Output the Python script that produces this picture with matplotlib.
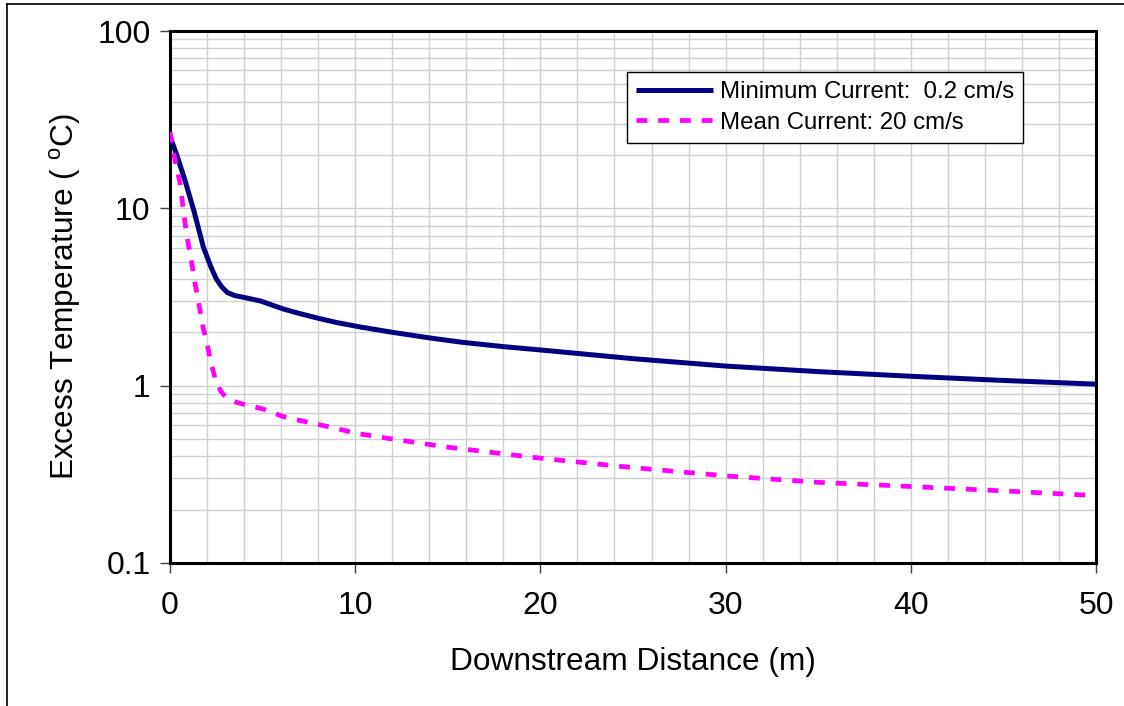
import matplotlib
matplotlib.use("Agg")
import matplotlib.pyplot as plt
from matplotlib.lines import Line2D
import numpy as np

plt.rcParams['font.family'] = ['Liberation Sans', 'DejaVu Sans']
plt.rcParams['mathtext.fontset'] = 'custom'
plt.rcParams['mathtext.rm'] = 'Liberation Sans'

# Data
dist_min = [0, 0.4, 0.8, 1.3, 1.8, 2.2, 2.5, 2.8, 3.1, 3.5, 3.9, 4.4, 4.9, 5.5, 6.1, 7.0, 8.0, 9.0, 10.3, 12, 14, 15.7, 18, 20, 25, 30, 35, 40, 45, 50]
temp_min = [25.5, 19.5, 14.5, 9.6, 6.05, 4.7, 4.0, 3.6, 3.35, 3.22, 3.16, 3.08, 3.0, 2.85, 2.71, 2.55, 2.40, 2.27, 2.14, 2.0, 1.86, 1.76, 1.66, 1.59, 1.42, 1.29, 1.20, 1.13, 1.07, 1.02]

dist_mean = [0, 0.27, 0.54, 0.7, 0.9, 1.13, 1.35, 1.57, 1.78, 2.0, 2.2, 2.5, 2.75, 2.97, 3.3, 3.67, 5.0, 6.1, 7.5, 8.8, 10, 12, 15, 20, 25, 30, 35, 40, 45, 50]
temp_mean = [27, 18.7, 13.9, 10.2, 7.06, 5.25, 3.79, 2.85, 2.14, 1.74, 1.36, 1.04, 0.93, 0.87, 0.83, 0.80, 0.74, 0.67, 0.62, 0.58, 0.54, 0.50, 0.45, 0.39, 0.345, 0.31, 0.285, 0.27, 0.255, 0.24]

label_min = "Minimum Current:  0.2 cm/s"
label_mean = "Mean Current: 20 cm/s"

W, H = 1124, 706
fig = plt.figure(figsize=(W/100, H/100), dpi=100)
ax = fig.add_axes([170/W, 1 - 563/H, (1096-170)/W, (563-31)/H])

ax.set_yscale('log')
ax.set_xlim(0, 50)
ax.set_ylim(0.1, 100)

ax.plot(dist_min, temp_min, color='#000080', lw=3.6, solid_capstyle='butt',
        solid_joinstyle='round', zorder=3)
ax.plot(dist_mean, temp_mean, color='#FF00FF', lw=3.4, dashes=(2.3, 2.3), zorder=3)

ax.set_xticks(np.arange(0, 51, 10))
ax.set_xticks(np.arange(0, 51, 2), minor=True)
ax.set_yticks([0.1, 1, 10, 100])
ax.set_yticklabels(['0.1', '1', '10', '100'])
ax.grid(True, which='both', color='#d0d0d0', lw=1, zorder=0)
ax.set_axisbelow(True)

ax.tick_params(axis='both', which='major', direction='out', length=7, width=1,
               labelsize=23, color='#404040', pad=7)
ax.tick_params(axis='both', which='minor', length=0)
ax.tick_params(axis='x', pad=13)
for s in ax.spines.values():
    s.set_linewidth(2.2)
    s.set_color('black')

ax.set_xlabel('Downstream Distance (m)', fontsize=22.8, labelpad=19)
ax.set_ylabel('Excess Temperature ( $^{\\mathrm{o}}$C)', fontsize=22.8, labelpad=10)

leg = ax.legend([label_min, label_mean], loc='upper left',
                bbox_to_anchor=((627-170)/(1096-170), (563-72)/(563-31)),
                fontsize=17.3, frameon=True, fancybox=False, framealpha=1,
                edgecolor='black', handlelength=3.2, handletextpad=0.3,
                borderpad=0.38, labelspacing=0.35, borderaxespad=0)
leg.get_frame().set_linewidth(1)
leg.get_frame().set_facecolor('white')

# figure border (left and top visible)
fig.add_artist(Line2D([7/W, 7/W], [0, 1 - 4/H], color='black', lw=1.2, transform=fig.transFigure))
fig.add_artist(Line2D([7/W, 1], [1 - 4/H, 1 - 4/H], color='black', lw=1.2, transform=fig.transFigure))

fig.savefig('out.png', dpi=100)
